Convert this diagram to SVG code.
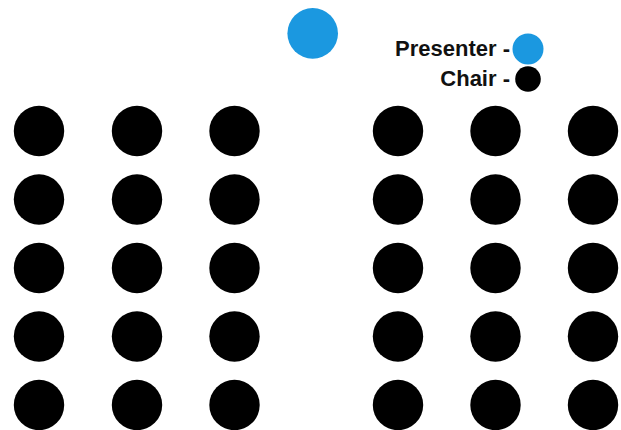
<svg xmlns="http://www.w3.org/2000/svg" width="621" height="430" viewBox="0 0 621 430">
<style>
.chair{fill:#000}
.presenter{fill:#1b98e0}
.lbl{font-family:"Liberation Sans",Arial,sans-serif;font-weight:bold;font-size:22px;fill:#111;text-anchor:end}
</style>
<rect width="621" height="430" fill="#fff"/>
<g id="presenter"><circle class="presenter" cx="312.7" cy="33.4" r="25.3"/></g>
<g id="legend">
<text class="lbl" x="510" y="55.5">Presenter -</text>
<circle class="presenter" cx="528" cy="49" r="15.5"/>
<text class="lbl" x="510" y="85.5">Chair -</text>
<circle class="chair" cx="528" cy="79" r="12.8"/>
</g>
<g id="chairs-left">
<circle class="chair" cx="39" cy="131" r="25.2"/><circle class="chair" cx="137" cy="131" r="25.2"/><circle class="chair" cx="234.5" cy="131" r="25.2"/>
<circle class="chair" cx="39" cy="199.5" r="25.2"/><circle class="chair" cx="137" cy="199.5" r="25.2"/><circle class="chair" cx="234.5" cy="199.5" r="25.2"/>
<circle class="chair" cx="39" cy="268" r="25.2"/><circle class="chair" cx="137" cy="268" r="25.2"/><circle class="chair" cx="234.5" cy="268" r="25.2"/>
<circle class="chair" cx="39" cy="336.5" r="25.2"/><circle class="chair" cx="137" cy="336.5" r="25.2"/><circle class="chair" cx="234.5" cy="336.5" r="25.2"/>
<circle class="chair" cx="39" cy="405" r="25.2"/><circle class="chair" cx="137" cy="405" r="25.2"/><circle class="chair" cx="234.5" cy="405" r="25.2"/>
</g>
<g id="chairs-right">
<circle class="chair" cx="398" cy="131" r="25.2"/><circle class="chair" cx="495.5" cy="131" r="25.2"/><circle class="chair" cx="593" cy="131" r="25.2"/>
<circle class="chair" cx="398" cy="199.5" r="25.2"/><circle class="chair" cx="495.5" cy="199.5" r="25.2"/><circle class="chair" cx="593" cy="199.5" r="25.2"/>
<circle class="chair" cx="398" cy="268" r="25.2"/><circle class="chair" cx="495.5" cy="268" r="25.2"/><circle class="chair" cx="593" cy="268" r="25.2"/>
<circle class="chair" cx="398" cy="336.5" r="25.2"/><circle class="chair" cx="495.5" cy="336.5" r="25.2"/><circle class="chair" cx="593" cy="336.5" r="25.2"/>
<circle class="chair" cx="398" cy="405" r="25.2"/><circle class="chair" cx="495.5" cy="405" r="25.2"/><circle class="chair" cx="593" cy="405" r="25.2"/>
</g>
</svg>
